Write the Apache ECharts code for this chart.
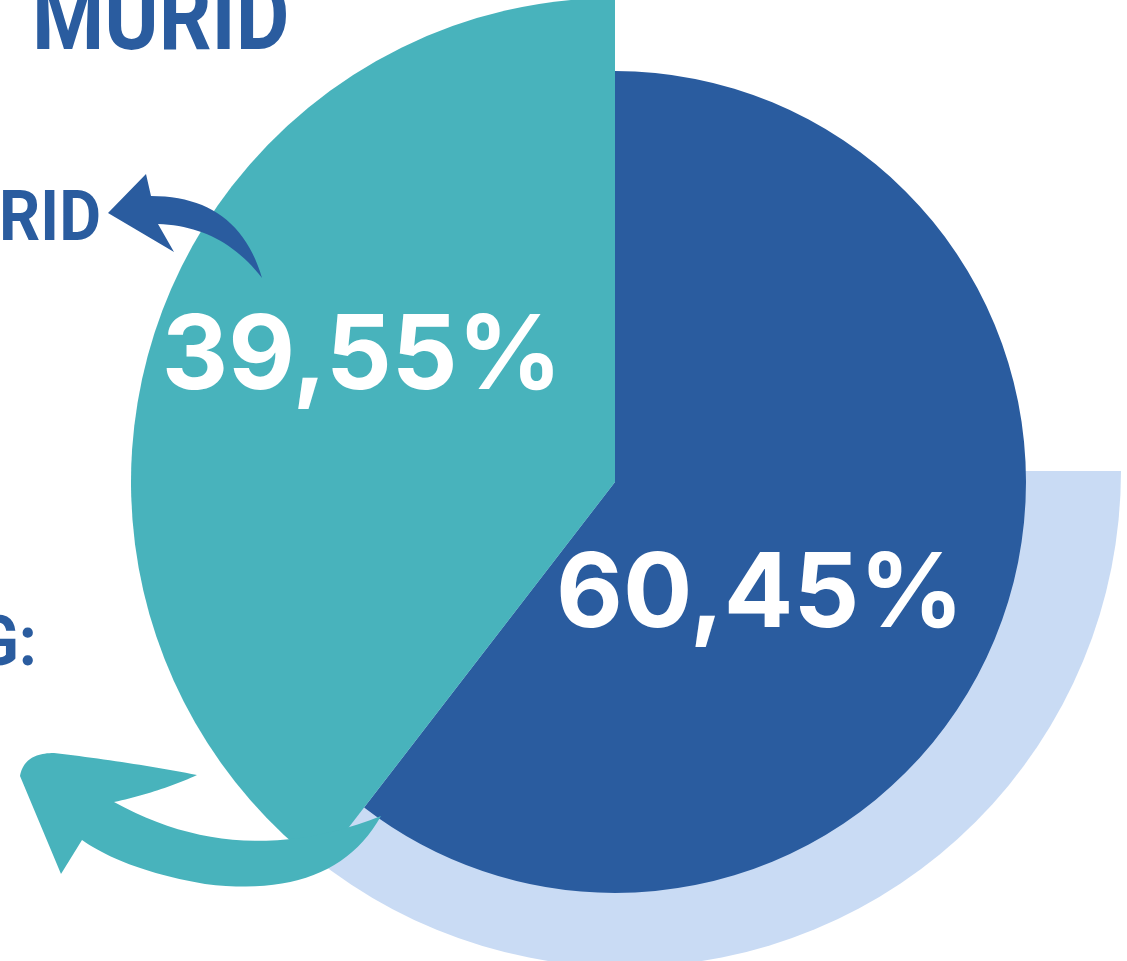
<!DOCTYPE html>
<html>
<head>
<meta charset="utf-8">
<script src="https://cdn.jsdelivr.net/npm/echarts@6/dist/echarts.min.js"></script>
<style>
  html, body { margin: 0; padding: 0; background: #ffffff; }
  #chart { width: 1127px; height: 961px; }
</style>
</head>
<body>
<div id="chart"></div>
<script>
// ---- data ----
var categories = ['Kelompok A', 'Kelompok B'];
var percentValues = [60.45, 39.55];
var sliceColors = ['#2A5C9F', '#48B3BC'];
var shadowValues = [37.4, 62.6];            // decorative light-blue backing arc
var headingTexts = ['MURID', 'RID', 'G:'];

function fmt(v) { return v.toFixed(2).replace('.', ',') + '%'; }

// sample a simple path (M/L/Q segments) into polygon points for decorative arrows
function samplePath(start, segs) {
  var pts = [start.slice()];
  var cur = start.slice();
  segs.forEach(function (s) {
    if (s[0] === 'L') {
      cur = [s[1], s[2]];
      pts.push(cur.slice());
    } else {
      var cx = s[1], cy = s[2], ex = s[3], ey = s[4];
      for (var k = 1; k <= 24; k++) {
        var t = k / 24, u = 1 - t;
        pts.push([u * u * cur[0] + 2 * u * t * cx + t * t * ex,
                  u * u * cur[1] + 2 * u * t * cy + t * t * ey]);
      }
      cur = [ex, ey];
    }
  });
  return pts;
}

var chart = echarts.init(document.getElementById('chart'), null, { renderer: 'canvas' });

var CENTER = [615, 482];
var labelPos = [[760, 596], [362, 358]];

function pieData(showIndex) {
  return percentValues.map(function (v, i) {
    var on = i === showIndex;
    return {
      name: categories[i],
      value: v,
      itemStyle: { color: on ? sliceColors[i] : 'rgba(0,0,0,0)' },
      label: { show: on }
    };
  });
}

var labelStyle = {
  position: 'inside',
  formatter: function (p) { return fmt(p.value); },
  color: '#ffffff',
  fontFamily: 'Inter',
  fontWeight: 700,
  fontSize: 103
};

var blueArrow = samplePath([108, 213], [
  ['L', 146, 174], ['L', 151, 196], ['Q', 238, 196, 262, 278],
  ['Q', 222, 226, 158, 224], ['L', 174, 252]
]);
var tealArrow = samplePath([20, 776], [
  ['Q', 24, 753, 54, 753], ['Q', 130, 762, 197, 775], ['Q', 160, 792, 114, 802],
  ['Q', 240, 872, 381, 816], ['Q', 334, 900, 205, 884], ['Q', 125, 870, 82, 840],
  ['L', 61, 874]
]);

var option = {
  backgroundColor: '#ffffff',
  animation: false,
  series: [
    {
      type: 'pie',
      silent: true,
      center: [625, 471],
      radius: [0, 496],
      startAngle: 0,
      clockwise: true,
      label: { show: false },
      labelLine: { show: false },
      data: shadowValues.map(function (v, i) {
        return { value: v, itemStyle: { color: i === 0 ? '#C9DBF4' : 'rgba(0,0,0,0)' } };
      }),
      z: 1
    },
    {
      type: 'pie',
      silent: true,
      center: CENTER,
      radius: [0, 411],
      startAngle: 90,
      clockwise: true,
      labelLine: { show: false },
      label: labelStyle,
      labelLayout: function (p) {
        return { x: labelPos[0][0], y: labelPos[0][1], align: 'center', verticalAlign: 'middle' };
      },
      data: pieData(0),
      z: 2
    },
    {
      type: 'pie',
      silent: true,
      center: CENTER,
      radius: [0, 484],
      startAngle: 90,
      clockwise: true,
      labelLine: { show: false },
      label: labelStyle,
      labelLayout: function (p) {
        return { x: labelPos[1][0], y: labelPos[1][1], align: 'center', verticalAlign: 'middle' };
      },
      data: pieData(1),
      z: 3
    }
  ],
  graphic: [
    {
      type: 'text', x: 32, y: 25, scaleX: 0.86, z: 10,
      style: { text: headingTexts[0], x: 0, y: 0, align: 'left', verticalAlign: 'middle',
               fill: '#2A5C9F', font: 'bold 96px Roboto' }
    },
    {
      type: 'text', x: 101, y: 222, scaleX: 0.92, z: 10,
      style: { text: headingTexts[1], x: 0, y: 0, align: 'right', verticalAlign: 'middle',
               fill: '#2A5C9F', font: 'bold 70px Roboto' }
    },
    {
      type: 'text', x: 37, y: 647, scaleX: 0.92, z: 10,
      style: { text: headingTexts[2], x: 0, y: 0, align: 'right', verticalAlign: 'middle',
               fill: '#2A5C9F', font: 'bold 70px Roboto' }
    },
    {
      type: 'polygon', z: 10,
      shape: { points: blueArrow },
      style: { fill: '#2A5C9F' }
    },
    {
      type: 'polygon', z: 10,
      shape: { points: tealArrow },
      style: { fill: '#48B3BC' }
    }
  ]
};

chart.setOption(option);
</script>
</body>
</html>
